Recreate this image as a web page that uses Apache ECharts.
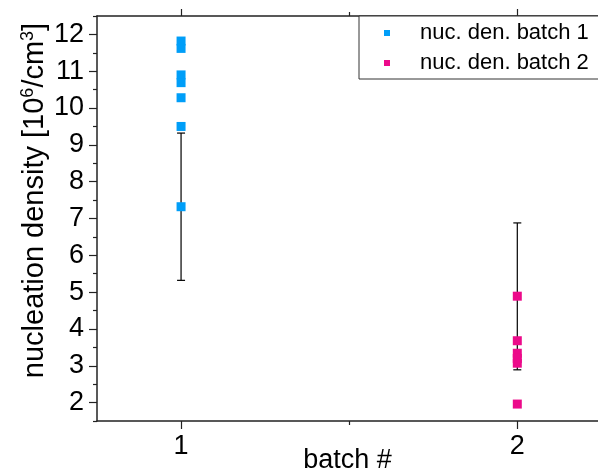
<!DOCTYPE html>
<html lang="en">
  <head>
    <meta charset="UTF-8" />
    <title>nucleation density</title>
    <script src="https://cdn.jsdelivr.net/npm/echarts@6/dist/echarts.min.js"></script>
    <style>
      body {
        margin: 0;
        padding: 0;
        background: #fff;
      }

      #main {
        width: 598px;
        height: 476px;
      }
    </style>
  </head>

  <body>
    <div id="main"></div>
    <script>
      // values
      const batch1Name = "nuc. den. batch 1";
      const batch2Name = "nuc. den. batch 2";
      const batch1Density = [11.82, 11.62, 10.9, 10.69, 10.28, 9.5, 7.32];
      const batch2Density = [4.89, 3.68, 3.34, 3.2, 3.07, 1.96];
      const errBatch = [1, 2];
      const errLow = [5.32, 2.89];
      const errHigh = [9.32, 6.88];

      const yMajorTicks = [2, 3, 4, 5, 6, 7, 8, 9, 10, 11, 12];
      const yMinorTicks = [1.5, 2.5, 3.5, 4.5, 5.5, 6.5, 7.5, 8.5, 9.5, 10.5, 11.5, 12.5];
      const xMajorTicks = [1, 2];
      const xMinorTicks = [1.5];

      const font = "Liberation Sans, Arial, sans-serif";
      const axisColor = "#222";
      const blue = "#009ef8";
      const pink = "#ec0a8a";

      const chartDom = document.getElementById("main");
      const myChart = echarts.init(chartDom);

      const baseX = {
        type: "value",
        min: 0.75,
        max: 2.24,
        splitLine: { show: false },
      };
      const baseY = {
        type: "value",
        min: 1.5,
        max: 12.5,
        splitLine: { show: false },
      };
      const line = { show: true, lineStyle: { color: axisColor, width: 1.5 } };
      const noLine = { show: false };
      const tick = (values, len) => ({
        show: true,
        inside: false,
        length: len,
        customValues: values,
        lineStyle: { color: axisColor, width: 1.2 },
      });

      const option = {
        animation: false,
        textStyle: { fontFamily: font },
        grid: {
          left: 97,
          right: 0,
          top: 16,
          bottom: 55,
          containLabel: false,
          outerBoundsMode: "none",
        },
        xAxis: [
          {
            ...baseX,
            position: "bottom",
            axisLine: line,
            axisTick: tick(xMajorTicks, 8),
            axisLabel: {
              customValues: xMajorTicks,
              margin: 12,
              fontSize: 27,
              color: "#000",
              fontFamily: font,
            },
            name: "batch #",
            nameLocation: "middle",
            nameGap: 26,
            nameMoveOverlap: false,
            nameTextStyle: { fontSize: 27, color: "#000", fontFamily: font },
          },
          {
            ...baseX,
            position: "bottom",
            axisLine: noLine,
            axisTick: tick(xMinorTicks, 4),
            axisLabel: { show: false },
          },
          {
            ...baseX,
            position: "top",
            axisLine: line,
            axisTick: tick(xMajorTicks, 7),
            axisLabel: { show: false },
          },
          {
            ...baseX,
            position: "top",
            axisLine: noLine,
            axisTick: tick(xMinorTicks, 4),
            axisLabel: { show: false },
          },
        ],
        yAxis: [
          {
            ...baseY,
            position: "left",
            axisLine: line,
            axisTick: tick(yMajorTicks, 8),
            axisLabel: {
              customValues: yMajorTicks,
              margin: 13,
              fontSize: 27,
              color: "#000",
              fontFamily: font,
            },
            name: "{a|nucleation density [10}{s|6}{a|/cm}{s|3}{a|]}",
            nameLocation: "middle",
            nameRotate: 90,
            nameGap: 46,
            nameMoveOverlap: false,
            nameTextStyle: {
              padding: [0, 0, 0, 36],
              rich: {
                a: { fontSize: 29, color: "#000", fontFamily: font, lineHeight: 32 },
                s: {
                  fontSize: 18,
                  color: "#000",
                  fontFamily: font,
                  verticalAlign: "top",
                  lineHeight: 32,
                  padding: [0, 0, 12, 0],
                },
              },
            },
          },
          {
            ...baseY,
            position: "left",
            axisLine: noLine,
            axisTick: tick(yMinorTicks, 4),
            axisLabel: { show: false },
          },
        ],
        legend: {
          data: [batch1Name, batch2Name],
          orient: "vertical",
          left: 359,
          top: 16,
          padding: [6, 40, 5, 25],
          itemGap: 8,
          itemWidth: 6,
          itemHeight: 6,
          backgroundColor: "#fff",
          borderColor: "#333",
          borderWidth: 1,
          textStyle: {
            fontSize: 22,
            color: "#000",
            fontFamily: font,
            padding: [0, 0, 0, 25],
          },
        },
        series: [
          {
            name: "error",
            type: "custom",
            xAxisIndex: 0,
            yAxisIndex: 0,
            z: 1,
            data: errBatch.map((b, i) => [b, errLow[i], errHigh[i]]),
            renderItem: (params, api) => {
              const lo = api.coord([api.value(0), api.value(1)]);
              const hi = api.coord([api.value(0), api.value(2)]);
              const w = 4;
              const style = { stroke: "#000", lineWidth: 1.2 };
              return {
                type: "group",
                children: [
                  { type: "line", shape: { x1: lo[0], y1: lo[1], x2: hi[0], y2: hi[1] }, style },
                  { type: "line", shape: { x1: lo[0] - w, y1: lo[1], x2: lo[0] + w, y2: lo[1] }, style },
                  { type: "line", shape: { x1: hi[0] - w, y1: hi[1], x2: hi[0] + w, y2: hi[1] }, style },
                ],
              };
            },
          },
          {
            name: batch1Name,
            type: "scatter",
            z: 3,
            symbol: "rect",
            symbolSize: 9,
            itemStyle: { color: blue, opacity: 1 },
            data: batch1Density.map((v) => [1, v]),
          },
          {
            name: batch2Name,
            type: "scatter",
            z: 3,
            symbol: "rect",
            symbolSize: 9,
            itemStyle: { color: pink, opacity: 1 },
            data: batch2Density.map((v) => [2, v]),
          },
        ],
      };

      myChart.setOption(option);
    </script>
  </body>
</html>
